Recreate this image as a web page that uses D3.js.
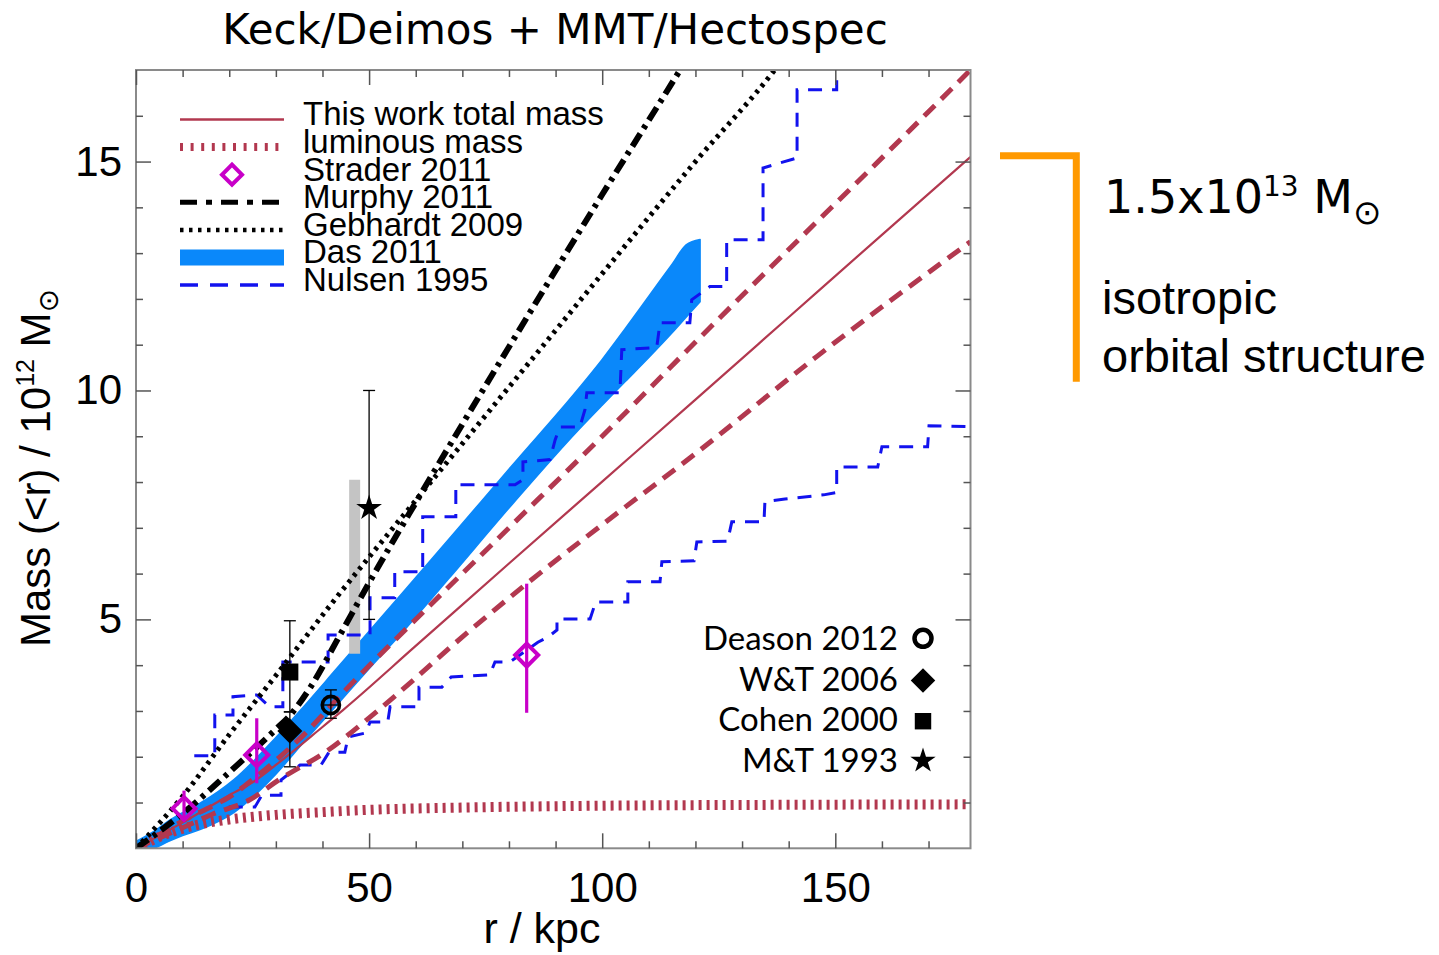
<!DOCTYPE html>
<html>
<head>
<meta charset="utf-8">
<script src="https://cdn.jsdelivr.net/npm/d3@7/dist/d3.min.js"></script>
<style>
  body { margin: 0; background: #fff; }
  svg { display: block; }
</style>
</head>
<body>
<svg id="chart" width="1439" height="955"></svg>
<script>
// ---------- data: enclosed mass M(<r) in 1e12 Msun vs radius r in kpc ----------
const radiusDomain = [0, 179];
const massDomain = [0, 17];
const radiusTicksMajor = [0, 50, 100, 150];
const radiusTicksMinor = [10, 20, 30, 40, 60, 70, 80, 90, 110, 120, 130, 140, 160, 170];
const massTicksMajor = [5, 10, 15];
const massTicksMinor = [1, 2, 3, 4, 6, 7, 8, 9, 11, 12, 13, 14, 16];

// this work: total mass and its range, luminous mass
const totalMass = [[0,0],[5,0.28],[10,0.56],[15,0.86],[20,1.16],[25.9,1.5],[30,1.82],[40,2.65],[44.4,3.02],[60,4.42],[80,6.22],[100,8.01],[120,9.8],[140,11.6],[160,13.4],[179,15.1]];
const totalMassUpper = [[0,0],[5,0.3],[10,0.6],[16.5,0.93],[20,1.12],[25,1.5],[30,1.92],[35.7,2.45],[44.4,3.4],[63,5.3],[80,7.0],[100,9.0],[117,10.75],[140,13.08],[160,15.08],[179,17.0]];
const totalMassLower = [[0,0],[10,0.45],[16.5,0.75],[24.4,1.06],[30.7,1.5],[40.9,2.12],[50,2.85],[60,3.72],[67.3,4.38],[83.8,5.78],[99.5,7.03],[120,8.62],[146,10.74],[179,13.25]];
const luminousMass = [[0,0],[3,0.15],[6,0.29],[10,0.43],[14,0.53],[20,0.63],[30,0.73],[40,0.79],[50,0.84],[70,0.89],[100,0.93],[140,0.95],[179,0.96]];

// literature profiles
const murphy2011 = [[0,0],[10,0.76],[20,1.66],[30,2.6],[33,2.9],[37.3,3.5],[43.7,4.65],[50,5.8],[60,7.55],[80,10.95],[100,14.28],[117,17.05],[120,17.55]];
const gebhardt2009 = [[0,0],[9.4,1.06],[20.2,2.51],[30.2,3.8],[42,5.35],[60,7.6],[86.6,10.89],[99.5,12.49],[120,15.0],[137,17.0],[140,17.4]];
const das2011R  = [0, 4, 7, 10, 14, 21, 30, 36, 43, 50, 57, 67, 81, 95, 100, 105, 110, 115, 118, 121];
const das2011Hi = [0.15, 0.38, 0.6, 0.78, 1.0, 1.5, 2.42, 3.1, 3.92, 4.74, 5.56, 6.74, 8.4, 10.05, 10.68, 11.36, 12.06, 12.76, 13.18, 13.3];
const das2011Lo = [-0.15, 0.0, 0.15, 0.28, 0.42, 0.78, 1.62, 2.32, 3.12, 3.92, 4.7, 5.88, 7.55, 9.15, 9.68, 10.2, 10.72, 11.26, 11.6, 11.94];
const nulsenUpper = [[12.5,2.02],[16.9,2.02],[16.9,2.91],[20.8,2.91],[20.8,3.31],[25.9,3.35],[28.7,3.09],[31.5,3.09],[31.5,4.07],[41.2,4.07],[41.2,4.66],[50.2,4.66],[50.2,5.47],[55.5,5.47],[55.5,6.04],[61.5,6.04],[61.5,7.24],[68.6,7.24],[68.6,7.94],[81.3,7.94],[83.0,8.05],[83.0,8.44],[88.8,8.49],[89.9,8.92],[90.9,9.2],[95.2,9.2],[96.3,9.58],[96.7,9.95],[103.8,9.95],[104.2,10.89],[111.7,10.94],[112.4,11.48],[118.8,11.48],[119.2,11.98],[123.1,12.27],[126.7,12.27],[126.7,13.29],[134.5,13.29],[134.5,14.86],[141.8,15.08],[141.8,16.57],[150.3,16.57],[150.3,17.2]];
const nulsenLower = [[19.9,0.9],[25.5,0.9],[27.0,1.16],[31.1,1.16],[31.1,1.49],[35.2,1.82],[39.7,1.82],[41.4,2.1],[44.8,2.1],[45.5,2.43],[49.3,2.52],[50.2,2.76],[54.0,2.76],[54.5,3.09],[60.7,3.09],[60.7,3.52],[65.6,3.52],[67.6,3.74],[75.9,3.79],[77.0,4.07],[80.2,4.07],[86.2,4.5],[88.6,4.63],[90.3,4.77],[90.3,5.01],[97.4,5.01],[98.6,5.38],[105.5,5.38],[105.5,5.82],[112.4,5.82],[112.8,6.26],[119.7,6.28],[120.3,6.69],[126.9,6.71],[127.8,7.13],[134.7,7.13],[134.9,7.57],[139.2,7.63],[147.5,7.72],[150.3,7.77],[150.3,8.33],[159.1,8.33],[160.0,8.77],[169.8,8.77],[170.1,9.23],[178.9,9.21]];

// point estimates with error bars
const strader2011 = [{r:10.3,m:0.87,lo:0.62,hi:1.26},{r:25.9,m:2.04,lo:1.42,hi:2.84},{r:83.8,m:4.22,lo:2.96,hi:5.78}];
const deason2012 = [{r:41.8,m:3.13,lo:2.84,hi:3.46}];
const wt2006 = [{r:33.0,m:2.56,lo:1.78,hi:2.98}];
const cohen2000 = [{r:33.0,m:3.85,lo:2.98,hi:4.97}];
const mt1993 = [{r:50.0,m:7.43,lo:5.0,hi:10.0}];
const grayRange = [{r:46.9,lo:4.25,hi:8.05}];

// text
const legendLabels = ["This work total mass","luminous mass","Strader 2011","Murphy 2011","Gebhardt 2009","Das 2011","Nulsen 1995"];
const refLabels = ["Deason 2012","W&T 2006","Cohen 2000","M&T 1993"];
const titleText = "Keck/Deimos + MMT/Hectospec";

// ---------- drawing ----------
const RED = "#b2384f", BLUE = "#1212ee", BAND = "#0a88fa", MAG = "#c800c8", ORANGE = "#ff9900";
const svg = d3.select("#chart");
const P = {left:136, right:970.5, top:70, bottom:848.3};
const x = d3.scaleLinear().domain(radiusDomain).range([P.left, P.right]);
const y = d3.scaleLinear().domain(massDomain).range([P.bottom, P.top]);

svg.append("defs").append("clipPath").attr("id","plotClip")
  .append("rect").attr("x",P.left).attr("y",P.top).attr("width",P.right-P.left).attr("height",P.bottom-P.top);

const smooth = d3.line().x(d=>x(d[0])).y(d=>y(d[1])).curve(d3.curveMonotoneX);
const straight = d3.line().x(d=>x(d[0])).y(d=>y(d[1]));
const plot = svg.append("g").attr("clip-path","url(#plotClip)");

// Das 2011 band
const dasBand = d3.area()
  .x(i=>x(das2011R[i])).y0(i=>y(das2011Lo[i])).y1(i=>y(das2011Hi[i]))
  .curve(d3.curveMonotoneX);
plot.append("path").attr("d", dasBand(d3.range(das2011R.length)))
  .attr("fill", BAND).attr("stroke", BAND).attr("stroke-width", 1.5).attr("stroke-linejoin","round");

// grey range bar
plot.selectAll("rect.range").data(grayRange).join("rect")
  .attr("x", d=>x(d.r)-5.5).attr("width", 11)
  .attr("y", d=>y(d.hi)).attr("height", d=>y(d.lo)-y(d.hi))
  .attr("fill", "#c4c4c4");

// luminous mass
plot.append("path").attr("d", smooth(luminousMass)).attr("fill","none")
  .attr("stroke", RED).attr("stroke-width", 10).attr("stroke-dasharray","3,5");

// Nulsen 1995 bounds
[nulsenUpper, nulsenLower].forEach(s => {
  plot.append("path").attr("d", straight(s)).attr("fill","none")
    .attr("stroke", BLUE).attr("stroke-width", 3).attr("stroke-dasharray","14,10");
});

// this work
plot.append("path").attr("d", smooth(totalMass)).attr("fill","none").attr("stroke", RED).attr("stroke-width", 2.2);
[totalMassUpper, totalMassLower].forEach(s => {
  plot.append("path").attr("d", smooth(s)).attr("fill","none")
    .attr("stroke", RED).attr("stroke-width", 5).attr("stroke-dasharray","15,9");
});

// Gebhardt 2009, Murphy 2011
plot.append("path").attr("d", smooth(gebhardt2009)).attr("fill","none")
  .attr("stroke","#000").attr("stroke-width", 5).attr("stroke-dasharray","3.5,5");
plot.append("path").attr("d", smooth(murphy2011)).attr("fill","none")
  .attr("stroke","#000").attr("stroke-width", 6).attr("stroke-dasharray","15,6,4,6");

// error bars
function errorBars(data, color, width, cap) {
  const g = svg.append("g").attr("stroke", color).attr("stroke-width", width);
  g.selectAll("line.v").data(data).join("line")
    .attr("x1", d=>x(d.r)).attr("x2", d=>x(d.r)).attr("y1", d=>y(d.lo)).attr("y2", d=>y(d.hi));
  if (cap > 0) {
    ["lo","hi"].forEach(k => {
      g.selectAll("line.c"+k).data(data).join("line")
        .attr("x1", d=>x(d.r)-cap/2).attr("x2", d=>x(d.r)+cap/2)
        .attr("y1", d=>y(d[k])).attr("y2", d=>y(d[k]));
    });
  }
}
errorBars(mt1993, "#000", 1.3, 12);
errorBars(cohen2000, "#000", 1.3, 12);
errorBars(wt2006, "#000", 1.3, 12);
errorBars(deason2012, "#000", 1.3, 12);
errorBars(strader2011, MAG, 3.2, 0);

const sym = (type, size) => d3.symbol().type(type).size(size)();

// Strader 2011 open diamonds
svg.selectAll("path.strader").data(strader2011).join("path")
  .attr("d", sym(d3.symbolSquare, 265))
  .attr("transform", d=>`translate(${x(d.r)},${y(d.m)}) rotate(45)`)
  .attr("fill","none").attr("stroke", MAG).attr("stroke-width", 4);

// black markers
svg.selectAll("path.wt").data(wt2006).join("path")
  .attr("d", sym(d3.symbolSquare, 313))
  .attr("transform", d=>`translate(${x(d.r)},${y(d.m)}) rotate(45)`).attr("fill","#000");
svg.selectAll("path.cohen").data(cohen2000).join("path")
  .attr("d", sym(d3.symbolSquare, 290))
  .attr("transform", d=>`translate(${x(d.r)},${y(d.m)})`).attr("fill","#000");
svg.selectAll("path.mt").data(mt1993).join("path")
  .attr("d", sym(d3.symbolStar, 205))
  .attr("transform", d=>`translate(${x(d.r)},${y(d.m)})`).attr("fill","#000");
const dg = svg.selectAll("g.deason").data(deason2012).join("g")
  .attr("transform", d=>`translate(${x(d.r)},${y(d.m)})`);
dg.append("circle").attr("r", 8.6).attr("fill","none").attr("stroke","#000").attr("stroke-width", 3.6);
dg.append("line").attr("x1",-7.5).attr("x2",7.5).attr("stroke","#000").attr("stroke-width",1.3);

// ---------- frame and axes ----------
svg.append("rect").attr("x",P.left).attr("y",P.top).attr("width",P.right-P.left).attr("height",P.bottom-P.top)
  .attr("fill","none").attr("stroke","#8a8a8a").attr("stroke-width",2);

function axisGroup(axis, tx, ty) {
  const g = svg.append("g").attr("transform", `translate(${tx},${ty})`).call(axis);
  g.select(".domain").remove();
  g.selectAll(".tick line").attr("stroke","#555").attr("stroke-width",1.5);
  g.selectAll(".tick text").attr("font-family","'Liberation Sans', Arial, sans-serif").attr("font-size",42).attr("fill","#000");
  return g;
}
axisGroup(d3.axisBottom(x).tickValues(radiusTicksMajor).tickSizeInner(-15).tickSizeOuter(0).tickPadding(24).tickFormat(d3.format("d")), 0, P.bottom);
axisGroup(d3.axisBottom(x).tickValues(radiusTicksMinor).tickSizeInner(-7).tickSizeOuter(0).tickFormat(""), 0, P.bottom);
axisGroup(d3.axisTop(x).tickValues(radiusTicksMajor).tickSizeInner(-15).tickSizeOuter(0).tickFormat(""), 0, P.top);
axisGroup(d3.axisTop(x).tickValues(radiusTicksMinor).tickSizeInner(-7).tickSizeOuter(0).tickFormat(""), 0, P.top);
axisGroup(d3.axisLeft(y).tickValues(massTicksMajor).tickSizeInner(-15).tickSizeOuter(0).tickPadding(14).tickFormat(d3.format("d")), P.left, 0);
axisGroup(d3.axisLeft(y).tickValues(massTicksMinor).tickSizeInner(-7).tickSizeOuter(0).tickFormat(""), P.left, 0);
axisGroup(d3.axisRight(y).tickValues(massTicksMajor).tickSizeInner(-15).tickSizeOuter(0).tickFormat(""), P.right, 0);
axisGroup(d3.axisRight(y).tickValues(massTicksMinor).tickSizeInner(-7).tickSizeOuter(0).tickFormat(""), P.right, 0);

// axis titles
svg.append("text").attr("x", 542).attr("y", 943).attr("text-anchor","middle")
  .attr("font-family","'Liberation Sans', Arial, sans-serif").attr("font-size",43).text("r / kpc");
const yt = svg.append("text").attr("transform","translate(50,468) rotate(-90)").attr("text-anchor","middle")
  .attr("font-family","'Liberation Sans', 'DejaVu Sans', sans-serif").attr("font-size",42);
yt.append("tspan").text("Mass (<r) / 10");
yt.append("tspan").attr("font-size",25).attr("dy",-16).text("12");
yt.append("tspan").attr("dy",16).text(" M");
yt.append("tspan").attr("font-size",28).attr("dy",8).attr("font-family","'DejaVu Sans', sans-serif").text("\u2299");

// title
svg.append("text").attr("x", 555).attr("y", 44).attr("text-anchor","middle")
  .attr("font-family","'DejaVu Sans', sans-serif").attr("font-size",42).text(titleText);

// ---------- legend (top left) ----------
const LX0 = 180, LX1 = 284, LY0 = 119.5, LDY = 27.6;
const lg = svg.append("g");
const ly = i => LY0 + i*LDY;
lg.append("line").attr("x1",LX0).attr("x2",LX1).attr("y1",ly(0)).attr("y2",ly(0)).attr("stroke",RED).attr("stroke-width",2.5);
lg.append("line").attr("x1",LX0).attr("x2",LX1).attr("y1",ly(1)).attr("y2",ly(1)).attr("stroke",RED).attr("stroke-width",8).attr("stroke-dasharray","3,7.6");
lg.append("path").attr("d", sym(d3.symbolSquare, 200)).attr("transform",`translate(232,${ly(2)}) rotate(45)`)
  .attr("fill","none").attr("stroke",MAG).attr("stroke-width",4);
lg.append("line").attr("x1",LX0).attr("x2",LX1).attr("y1",ly(3)).attr("y2",ly(3)).attr("stroke","#000").attr("stroke-width",5).attr("stroke-dasharray","17,9,6,9");
lg.append("line").attr("x1",LX0).attr("x2",LX1).attr("y1",ly(4)).attr("y2",ly(4)).attr("stroke","#000").attr("stroke-width",4.5).attr("stroke-dasharray","3.5,5.5");
lg.append("line").attr("x1",LX0).attr("x2",LX1).attr("y1",ly(5)).attr("y2",ly(5)).attr("stroke",BAND).attr("stroke-width",16);
lg.append("line").attr("x1",LX0).attr("x2",LX1).attr("y1",ly(6)).attr("y2",ly(6)).attr("stroke",BLUE).attr("stroke-width",3.5).attr("stroke-dasharray","18,12");
lg.selectAll("text").data(legendLabels).join("text")
  .attr("x",303).attr("y",(d,i)=>ly(i)+5.8)
  .attr("font-family","'Liberation Sans', Arial, sans-serif").attr("font-size",33).text(d=>d);

// ---------- legend (bottom right) ----------
const RY0 = 650, RDY = 40.6, RSX = 923;
const rg = svg.append("g");
rg.selectAll("text").data(refLabels).join("text")
  .attr("x",898).attr("y",(d,i)=>RY0+i*RDY).attr("text-anchor","end")
  .attr("font-family","Lato, 'Open Sans', sans-serif").attr("font-size",33).text(d=>d);
rg.append("circle").attr("cx",RSX).attr("cy",RY0-11.7).attr("r",8.5).attr("fill","none").attr("stroke","#000").attr("stroke-width",4.5);
rg.append("path").attr("d", sym(d3.symbolSquare, 300)).attr("transform",`translate(${RSX},${RY0+RDY-10}) rotate(45)`).attr("fill","#000");
rg.append("path").attr("d", sym(d3.symbolSquare, 270)).attr("transform",`translate(${RSX},${RY0+2*RDY-10})`).attr("fill","#000");
rg.append("path").attr("d", sym(d3.symbolStar, 200)).attr("transform",`translate(${RSX},${RY0+3*RDY-11})`).attr("fill","#000");

// ---------- annotation (right) ----------
svg.append("path").attr("d","M1000,155.8 H1076.3 V381.7").attr("fill","none")
  .attr("stroke",ORANGE).attr("stroke-width",7).attr("stroke-linejoin","miter");
const at = svg.append("text").attr("x",1104).attr("y",213).attr("font-family","'DejaVu Sans', sans-serif").attr("font-size",46);
at.append("tspan").text("1.5x10");
at.append("tspan").attr("font-size",28).attr("dy",-17).text("13");
at.append("tspan").attr("dy",17).text(" M");
at.append("tspan").attr("font-size",34).attr("dy",11).text("\u2299");
svg.append("text").attr("x",1102).attr("y",314).attr("font-family","'Liberation Sans', Arial, sans-serif").attr("font-size",47).text("isotropic");
svg.append("text").attr("x",1102).attr("y",372).attr("font-family","'Liberation Sans', Arial, sans-serif").attr("font-size",47).text("orbital structure");
</script>
</body>
</html>
